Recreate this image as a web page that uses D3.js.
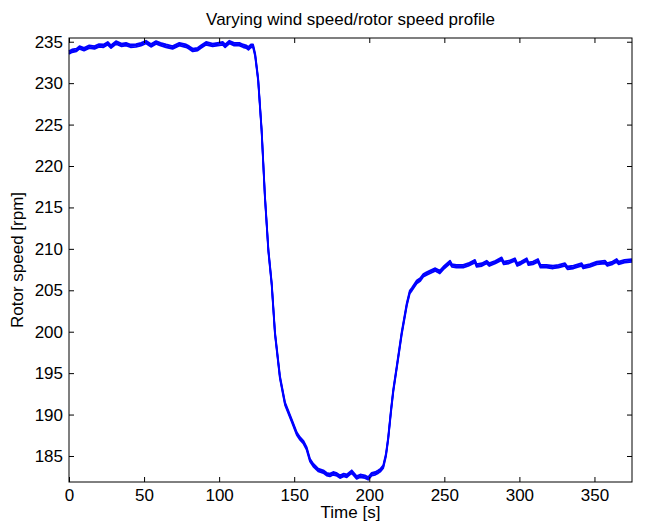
<!DOCTYPE html>
<html>
<head>
<meta charset="utf-8">
<script src="https://cdn.jsdelivr.net/npm/d3@7"></script>
<style>
  body { margin: 0; background: #fff; }
  text { font-family: "Liberation Sans", Arial, sans-serif; }
</style>
</head>
<body>
<div id="graph"></div>
<script>
// time [s] and rotor speed [rpm]
var time = [0, 2, 5, 7, 10, 13.5, 17, 20, 23, 25.8, 28, 31.3, 35, 38, 41, 44.6, 48, 51.3, 54.6, 58,
  61, 64.6, 69, 73.5, 78, 80, 82.4, 85.7, 88, 91.3, 95.7, 99, 102.4, 104, 106.8, 110, 113.5, 116, 118, 119.5,
  121.2, 122.6, 124, 126, 128.3, 130.5, 132.8, 135, 137.2, 140.5, 143.9, 148.3, 151.7, 153.9, 156, 158.3, 160.5, 162.7, 166, 169.4,
  171.6, 173.8, 176, 178, 180.5, 183, 185, 188.3, 191.6, 194, 197.1, 199.3, 201.6, 204, 206, 207.5, 209.3, 211.1, 212.6, 214.5,
  216, 218.3, 221.6, 225, 227, 228.3, 231.6, 234, 236, 238, 240.4, 244, 247, 250, 253.8, 255, 258, 262.6, 266, 270.4,
  271.5, 275, 278.2, 280, 284, 288.2, 289.5, 293, 297, 298.5, 301, 304.9, 306, 309, 312.4, 314, 318, 322.4, 326, 330.4,
  332, 336, 341.5, 342.5, 347, 351.5, 357, 358.5, 362, 364.8, 366, 370, 375];
var rpm = [233.7, 233.9, 234.0, 234.3, 234.1, 234.4, 234.3, 234.55, 234.5, 234.8, 234.4, 234.9, 234.6, 234.7, 234.5, 234.55, 234.7, 234.95, 234.55, 234.9,
  234.7, 234.5, 234.3, 234.7, 234.5, 234.3, 234.0, 234.1, 234.4, 234.8, 234.6, 234.7, 234.8, 234.5, 234.95, 234.7, 234.7, 234.5, 234.4, 234.2,
  234.5, 234.5, 233.4, 230.4, 224.3, 216.3, 209.8, 205.8, 199.8, 194.5, 191.3, 189.3, 187.7, 187.1, 186.7, 185.9, 184.5, 183.9, 183.3, 183.1,
  182.8, 182.7, 182.9, 182.8, 182.5, 182.7, 182.6, 183.1, 182.4, 182.6, 182.5, 182.3, 182.8, 182.9, 183.1, 183.3, 183.7, 185.1, 187.1, 190.5,
  192.9, 195.7, 199.8, 203.3, 204.8, 205.1, 206.0, 206.3, 206.8, 207.0, 207.2, 207.5, 207.2, 207.8, 208.4, 208.0, 207.9, 207.9, 208.1, 208.5,
  208.0, 208.1, 208.4, 208.1, 208.4, 208.8, 208.3, 208.4, 208.7, 208.1, 208.3, 208.7, 208.2, 208.3, 208.6, 207.9, 207.9, 207.8, 207.9, 208.1,
  207.7, 207.8, 208.1, 207.8, 208.0, 208.3, 208.4, 208.1, 208.3, 208.6, 208.3, 208.5, 208.6];

var xTicks = [0, 50, 100, 150, 200, 250, 300, 350];
var yTicks = [185, 190, 195, 200, 205, 210, 215, 220, 225, 230, 235];

var data = time.map(function(t, i) { return { t: t, v: rpm[i] }; });

var W = 646, H = 529;
var margin = { top: 38, right: 14, bottom: 47, left: 69 },
    width = W - margin.left - margin.right,
    height = H - margin.top - margin.bottom;

var svg = d3.select('#graph').append('svg')
    .attr('width', W)
    .attr('height', H)
    .style('background', '#FFFFFF')
  .append("g")
    .attr("transform", "translate(" + margin.left + "," + margin.top + ")");

var x = d3.scaleLinear().domain([0, 375]).range([0, width]);
var y = d3.scaleLinear().domain([181.86, 235.45]).range([height, 0]);

// the trace (drawn three times, shifted up/down a bit, to get the noisy band look)
var line = d3.line()
    .x(function(d) { return x(d.t); })
    .y(function(d) { return y(d.v); });

var plot = svg.append("g");
[-1.4, 0, 1.4].forEach(function(dy) {
  plot.append("path")
      .datum(data)
      .attr("transform", "translate(0," + dy + ")")
      .attr("d", line)
      .style("fill", "none")
      .style("stroke", "#0000FF")
      .style("stroke-width", 1.8)
      .style("stroke-linejoin", "round");
});

// axes, MATLAB style: ticks inside, on all four sides
function styleAxis(g) {
  g.select(".domain").remove();
  g.selectAll(".tick line").style("stroke", "#000").style("stroke-width", 1);
  g.selectAll(".tick text").style("font-size", "17px").style("fill", "#000");
}

svg.append("g")
    .attr("transform", "translate(0," + height + ")")
    .call(d3.axisBottom(x).tickValues(xTicks).tickSize(-5).tickPadding(7).tickFormat(d3.format("d")))
    .call(styleAxis);

svg.append("g")
    .call(d3.axisTop(x).tickValues(xTicks).tickSize(-5).tickFormat(""))
    .call(styleAxis);

svg.append("g")
    .call(d3.axisLeft(y).tickValues(yTicks).tickSize(-5).tickPadding(6).tickFormat(d3.format("d")))
    .call(styleAxis);

svg.append("g")
    .attr("transform", "translate(" + width + ",0)")
    .call(d3.axisRight(y).tickValues(yTicks).tickSize(-5).tickFormat(""))
    .call(styleAxis);

svg.append("rect")
    .attr("x", 0)
    .attr("y", 0)
    .attr("width", width)
    .attr("height", height)
    .style("fill", "none")
    .style("stroke", "#000")
    .style("stroke-width", 1);

// title
svg.append("text")
    .attr("x", width / 2)
    .attr("y", 25 - margin.top)
    .attr("text-anchor", "middle")
    .style("font-size", "17px")
    .style("fill", "#000")
    .text("Varying wind speed/rotor speed profile");

// x label
svg.append("text")
    .attr("x", width / 2)
    .attr("y", 518 - margin.top)
    .attr("text-anchor", "middle")
    .style("font-size", "17px")
    .style("fill", "#000")
    .text("Time [s]");

// y label
svg.append("text")
    .attr("transform", "translate(" + (23 - margin.left) + "," + (height / 2) + ") rotate(-90)")
    .attr("text-anchor", "middle")
    .style("font-size", "17px")
    .style("fill", "#000")
    .text("Rotor speed [rpm]");
</script>
</body>
</html>
